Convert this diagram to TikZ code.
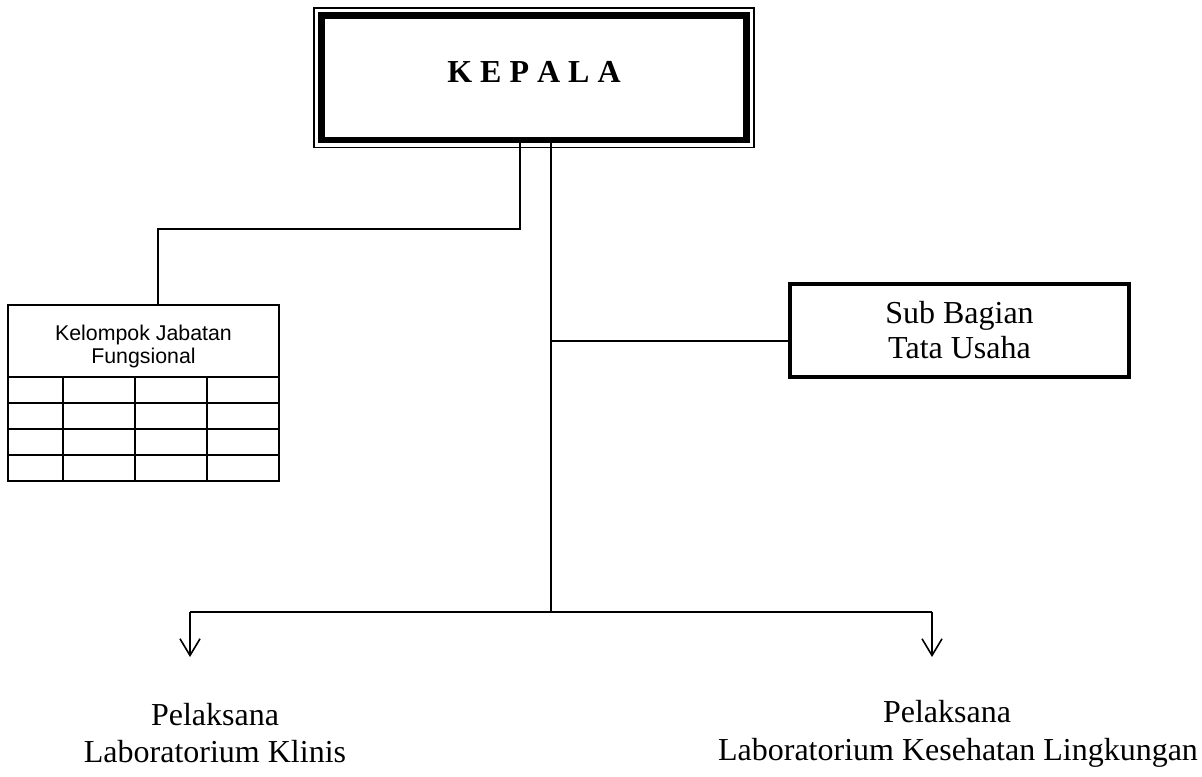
\documentclass[tikz,border=0pt]{standalone}
\usepackage{fontspec}
\setmainfont{Liberation Serif}
\newfontfamily\arialfont{Liberation Sans}
\usetikzlibrary{arrows.meta,calc,positioning}

\begin{document}
\begin{tikzpicture}[x=0.75pt,y=0.75pt,yscale=-1,xscale=1,
  conn/.style={line width=1.2pt},
  downarrow/.style={conn,-{Straight Barb[length=12.5pt,width=15pt,line width=1.2pt]}},
  bigtext/.style={font=\fontsize{24}{26}\selectfont,inner sep=0pt,anchor=base}]
\useasboundingbox (0,0) rectangle (1202,776);
% Kepala box
\node (kepala) [draw,line width=4.9pt,inner sep=0pt,outer sep=0pt,minimum width=318.6pt,minimum height=93.4pt,font=\fontsize{24}{26}\selectfont\bfseries,text height=16.2pt,text depth=8.7pt] at (534,77.75) {K E P A L A};
\draw [line width=1pt] ($(kepala.north west)+(-7.5,-7.5)$) rectangle ($(kepala.south east)+(7.5,7.5)$);
% Kelompok Jabatan Fungsional table
\node (kelompok) [draw,line width=1.1pt,inner sep=0pt,outer sep=0pt,minimum width=203.25pt,minimum height=132pt] at (143.5,393) {};
\node (kjf) [font=\arialfont\fontsize{16}{17.25}\selectfont,align=center,inner sep=0pt] at (143.5,346) {Kelompok Jabatan\\Fungsional};
\foreach \y in {377,403,429,455}
  \draw [line width=1.1pt] (kelompok.west |- 0,\y) -- (kelompok.east |- 0,\y);
\foreach \x in {63,135,207}
  \draw [line width=1.1pt] (\x,377) -- (\x,0 |- kelompok.south);
% Sub Bagian box
\node (tu) [draw,line width=3pt,inner sep=0pt,outer sep=0pt,minimum width=254.25pt,minimum height=69.75pt,align=center,font=\fontsize{24}{26.25}\selectfont] at (959.5,330.5) {Sub Bagian\\Tata Usaha};
%Straight Lines
\coordinate (fk) at (520,229);
\coordinate (fd) at (158,229);
\draw [conn] (kepala.south -| fk) -- (fk) -- (fd) -- (fd |- kelompok.north);
\coordinate (bus) at (551,612);
\draw [conn] (kepala.south -| bus) -- (bus);
\coordinate (tk) at (551,341);
\draw [conn] (tk) -- (tk -| tu.west);
\coordinate (kl) at (190,612);
\coordinate (kr) at (932,612);
\draw [conn] (kl) -- (kr);
\coordinate (al) at (190,657);
\coordinate (ar) at (932,657);
\draw [downarrow] (kl) -- (al);
\draw [downarrow] (kr) -- (ar);
% Text Node
\node (plk) [bigtext] at (215,725) {Pelaksana};
\node (labk) [bigtext] at (215,762) {Laboratorium Klinis};
\node (plr) [bigtext] at (947,722) {Pelaksana};
\node (labr) [bigtext] at (958,760) {Laboratorium Kesehatan Lingkungan};
\end{tikzpicture}
\end{document}
